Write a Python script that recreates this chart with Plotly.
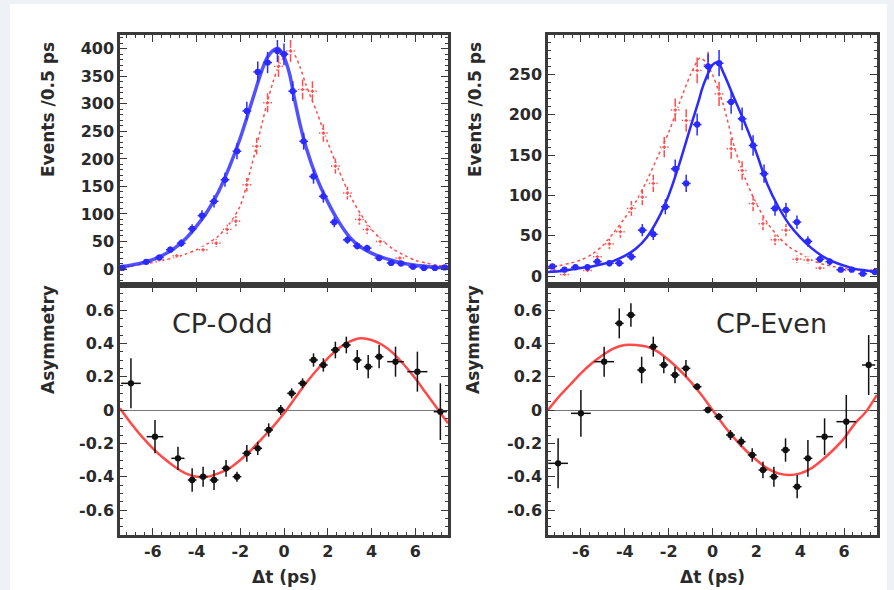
import plotly.graph_objects as go

# ---------------- data ----------------
# Top-left (CP-Odd) event distributions
tl_blue_x = [-7.4, -6.3, -5.7, -5.2, -4.7, -4.2, -3.75, -3.2, -2.7, -2.15, -1.7, -1.2, -0.75, -0.3, 0.0,
             0.4, 0.9, 1.35, 1.8, 2.3, 2.9, 3.35, 3.8, 4.35, 4.9, 5.35, 5.9, 6.4, 6.9, 7.35]
tl_blue_y = [2, 13, 21, 35, 47, 73, 97, 123, 162, 214, 287, 358, 375, 396, 390,
             323, 232, 168, 132, 85, 53, 42, 38, 20, 11, 10, 4, 2, 2, 3]
tl_red_x = [-7.1, -6.4, -5.7, -4.9, -3.7, -3.1, -2.6, -2.2, -1.7, -1.25, -0.75, -0.25, 0.3, 0.85,
            1.3, 1.8, 2.35, 2.9, 3.45, 3.8, 4.4, 5.3, 5.9, 6.5, 6.9]
tl_red_y = [5, 11, 17, 24, 35, 47, 72, 87, 153, 223, 302, 368, 396, 326,
            323, 247, 187, 138, 90, 72, 50, 20, 4, 3, 2]
tl_fit_x = [-7.5, -7, -6.5, -6, -5.5, -5, -4.5, -4, -3.5, -3, -2.5, -2, -1.5, -1, -0.75, -0.5, -0.25,
            0, 0.25, 0.5, 0.75, 1, 1.5, 2, 2.5, 3, 3.5, 4, 4.5, 5, 5.5, 6, 6.5, 7, 7.5]
tl_blue_fit = [4, 7, 11, 17, 26, 38, 55, 78, 105, 140, 185, 238, 300, 362, 385, 397, 400,
               385, 355, 305, 260, 222, 165, 122, 86, 58, 40, 29, 21, 15, 10, 7, 5, 3, 2]
tl_red_fit = [4, 6, 9, 12, 16, 21, 27, 35, 46, 60, 82, 115, 185, 265, 305, 340, 368,
              385, 395, 388, 365, 335, 285, 230, 180, 135, 100, 72, 52, 36, 25, 16, 11, 7, 5]

# Top-right (CP-Even) event distributions
tr_blue_x = [-7.3, -6.75, -6.25, -5.7, -5.25, -4.7, -4.25, -3.7, -3.2, -2.7, -2.15, -1.7, -1.2, -0.7, -0.2,
             0.3, 0.85, 1.35, 1.85, 2.35, 2.85, 3.35, 3.85, 4.35, 4.9, 5.35, 5.85, 6.35, 6.85, 7.4]
tr_blue_y = [12, 8, 11, 11, 18, 16, 16, 24, 57, 52, 86, 133, 115, 188, 260,
             264, 216, 195, 162, 127, 84, 82, 67, 43, 21, 18, 8, 8, 3, 5]
tr_red_x = [-7.2, -6.75, -5.7, -5.25, -4.7, -4.2, -3.7, -3.2, -2.7, -2.2, -1.7, -1.2, -0.7, -0.2,
            0.3, 0.85, 1.35, 1.85, 2.3, 2.85, 3.35, 3.85, 4.35, 4.9, 5.9, 7.4]
tr_red_y = [7, 2, 7, 24, 40, 55, 84, 98, 115, 160, 206, 193, 255, 262,
            226, 158, 131, 90, 65, 45, 57, 21, 20, 10, 7, 8]
tr_fit_x = [-7.5, -7, -6.5, -6, -5.5, -5, -4.5, -4, -3.5, -3, -2.5, -2, -1.5, -1, -0.6, -0.5, -0.3,
            0, 0.25, 0.5, 1, 1.5, 2, 2.5, 3, 3.5, 4, 4.5, 5, 5.5, 6, 6.5, 7, 7.5]
tr_blue_fit = [5, 6, 8, 10, 12, 15, 19, 25, 34, 48, 70, 100, 140, 185, 220, 230, 245,
               262, 265, 252, 220, 188, 153, 114, 86, 64, 48, 35, 25, 18, 13, 9, 7, 5]
tr_red_fit = [10, 13, 16, 20, 27, 38, 54, 72, 92, 118, 148, 178, 215, 250, 270, 270, 265,
              250, 232, 212, 160, 120, 90, 66, 49, 36, 28, 20, 15, 12, 10, 8, 7, 6]

# Bottom-left (CP-Odd) asymmetry
bl_x = [-7.0, -5.9, -4.85, -4.2, -3.7, -3.2, -2.65, -2.15, -1.7, -1.2, -0.7, -0.15,
        0.35, 0.85, 1.35, 1.8, 2.35, 2.85, 3.35, 3.85, 4.35, 5.1, 6.1, 7.15]
bl_y = [0.16, -0.16, -0.29, -0.42, -0.40, -0.42, -0.35, -0.40, -0.26, -0.23, -0.12, 0.0,
        0.10, 0.16, 0.30, 0.27, 0.36, 0.39, 0.30, 0.26, 0.32, 0.29, 0.23, -0.01]
bl_yerr = [0.15, 0.10, 0.07, 0.07, 0.06, 0.06, 0.05, 0.03, 0.05, 0.04, 0.04, 0.03,
           0.03, 0.03, 0.04, 0.04, 0.05, 0.05, 0.06, 0.07, 0.07, 0.09, 0.12, 0.17]
bl_xerr = [0.45, 0.38, 0.3, 0.2, 0.2, 0.2, 0.2, 0.2, 0.2, 0.2, 0.2, 0.2,
           0.2, 0.2, 0.2, 0.2, 0.2, 0.2, 0.2, 0.2, 0.2, 0.38, 0.46, 0.3]
fit_x = [-7.5, -7, -6.5, -6, -5.5, -5, -4.5, -4, -3.5, -3, -2.5, -2, -1.5, -1, -0.5, 0,
         0.5, 1, 1.5, 2, 2.5, 3, 3.5, 4, 4.5, 5, 5.5, 6, 6.5, 7, 7.5]
bl_fit = [0.01, -0.08, -0.16, -0.23, -0.29, -0.34, -0.38, -0.40, -0.40, -0.38, -0.35, -0.30, -0.24, -0.17, -0.10, -0.02,
          0.07, 0.16, 0.24, 0.31, 0.37, 0.41, 0.43, 0.42, 0.39, 0.34, 0.27, 0.19, 0.10, 0.01, -0.08]

# Bottom-right (CP-Even) asymmetry
br_x = [-7.04, -6.0, -4.94, -4.25, -3.72, -3.23, -2.7, -2.22, -1.71, -1.21, -0.7, -0.21,
        0.29, 0.82, 1.31, 1.81, 2.3, 2.8, 3.33, 3.86, 4.35, 5.11, 6.1, 7.12]
br_y = [-0.32, -0.02, 0.29, 0.52, 0.57, 0.24, 0.38, 0.27, 0.21, 0.25, 0.14, 0.0,
        -0.04, -0.15, -0.19, -0.27, -0.36, -0.40, -0.24, -0.46, -0.29, -0.16, -0.07, 0.27]
br_yerr = [0.15, 0.14, 0.09, 0.09, 0.07, 0.08, 0.06, 0.05, 0.05, 0.05, 0.02, 0.02,
           0.02, 0.03, 0.03, 0.04, 0.05, 0.06, 0.07, 0.07, 0.11, 0.11, 0.16, 0.18]
br_xerr = [0.45, 0.45, 0.45, 0.2, 0.2, 0.2, 0.2, 0.2, 0.2, 0.2, 0.2, 0.2,
           0.2, 0.2, 0.2, 0.2, 0.2, 0.2, 0.2, 0.2, 0.2, 0.38, 0.45, 0.3]
br_fit = [0.0, 0.08, 0.15, 0.22, 0.28, 0.33, 0.37, 0.39, 0.39, 0.38, 0.35, 0.30, 0.24, 0.17, 0.09, 0.0,
          -0.09, -0.17, -0.24, -0.30, -0.35, -0.38, -0.39, -0.38, -0.35, -0.30, -0.24, -0.17, -0.08, -0.01, 0.09]

x_tickvals = [-6, -4, -2, 0, 2, 4, 6]
x_ticktext = ["-6", "-4", "-2", "0", "2", "4", "6"]
asym_tickvals = [-0.6, -0.4, -0.2, 0, 0.2, 0.4, 0.6]
asym_ticktext = ["-0.6", "-0.4", "-0.2", "0", "0.2", "0.4", "0.6"]
tl_tickvals = [0, 50, 100, 150, 200, 250, 300, 350, 400]
tr_tickvals = [0, 50, 100, 150, 200, 250]

# ---------------- styling ----------------
BLUE = "#2b2bff"
RED = "#ff4d4d"
FRAME = "#3a3a3a"
TXT = "#2a2a2a"
W, H = 894, 590

def px_x(a, b):
    return [a / W, b / W]

def px_y(top, bottom):
    return [1 - bottom / H, 1 - top / H]

fig = go.Figure()

def pts(x, y, color, xa, ya, hollow=False, err=None, xerr=None, size=5):
    ey = dict(type="sqrt", color=color, thickness=1.5, width=0) if err is None else \
        dict(type="data", array=err, color=color, thickness=1.5, width=0)
    ex = dict(type="constant", value=0.2, color=color, thickness=1.5, width=0) if xerr is None else \
        dict(type="data", array=xerr, color=color, thickness=1.5, width=0)
    fig.add_trace(go.Scatter(
        x=x, y=y, mode="markers", xaxis=xa, yaxis=ya,
        marker=dict(size=size, color="white" if hollow else color,
                    symbol="circle-open" if hollow else "circle",
                    line=dict(color=color, width=1.3)),
        error_y=ey, error_x=ex, showlegend=False, hoverinfo="skip"))

def curve(x, y, color, xa, ya, width, dash="solid"):
    fig.add_trace(go.Scatter(
        x=x, y=y, mode="lines", xaxis=xa, yaxis=ya, line_shape="spline",
        line=dict(color=color, width=width, dash=dash, smoothing=0.8),
        showlegend=False, hoverinfo="skip"))

# top-left
curve(tl_fit_x, tl_red_fit, RED, "x", "y", 1.5, "dot")
pts(tl_red_x, tl_red_y, RED, "x", "y", hollow=True)
curve(tl_fit_x, tl_blue_fit, "rgba(50,50,255,0.85)", "x", "y", 3.5)
pts(tl_blue_x, tl_blue_y, BLUE, "x", "y")
# top-right
curve(tr_fit_x, tr_red_fit, RED, "x2", "y2", 1.5, "dot")
pts(tr_red_x, tr_red_y, RED, "x2", "y2", hollow=True)
curve(tr_fit_x, tr_blue_fit, BLUE, "x2", "y2", 2.5)
pts(tr_blue_x, tr_blue_y, BLUE, "x2", "y2")
# bottom-left
curve(fit_x, bl_fit, "#ff4a4a", "x3", "y3", 2.5)
pts(bl_x, bl_y, "#111111", "x3", "y3", err=bl_yerr, xerr=bl_xerr, size=5)
# bottom-right
curve(fit_x, br_fit, "#ff4a4a", "x4", "y4", 2.5)
pts(br_x, br_y, "#111111", "x4", "y4", err=br_yerr, xerr=br_xerr, size=5)

tickfont = dict(family="DejaVu Sans", size=16, color=TXT, weight="bold")

def xaxis(domain, anchor, labels):
    return dict(domain=domain, anchor=anchor, range=[-7.5, 7.5],
                showline=True, linecolor=FRAME, linewidth=2.5, mirror="ticks",
                ticks="inside", ticklen=7, tickwidth=1, tickcolor=FRAME,
                tickvals=x_tickvals, ticktext=x_ticktext, showticklabels=labels,
                tickfont=tickfont, showgrid=False, zeroline=False,
                minor=dict(ticks="inside", ticklen=3, dtick=0.4, tick0=0, tickcolor=FRAME, showgrid=False))

def yaxis(domain, anchor, rng, tv, tt, minor_dtick, zl=False):
    return dict(domain=domain, anchor=anchor, range=rng,
                showline=True, linecolor=FRAME, linewidth=2.5, mirror="ticks",
                ticks="inside", ticklen=7, tickwidth=1, tickcolor=FRAME,
                tickvals=tv, ticktext=tt, tickfont=tickfont, showgrid=False,
                zeroline=zl, zerolinecolor="#777777", zerolinewidth=1,
                minor=dict(ticks="inside", ticklen=3, dtick=minor_dtick, tick0=0, tickcolor=FRAME, showgrid=False))

xl = px_x(120, 448)
xr = px_x(548, 877)
yt = px_y(35, 285)
yb = px_y(285, 535)

fig.update_layout(
    width=W, height=H, margin=dict(l=0, r=0, t=0, b=0),
    paper_bgcolor="white", plot_bgcolor="white",
    xaxis=xaxis(xl, "y", False),
    yaxis=yaxis(yt, "x", [-29, 425], tl_tickvals, [str(v) for v in tl_tickvals], 10),
    xaxis2=xaxis(xr, "y2", False),
    yaxis2=yaxis(yt, "x2", [-11, 299], tr_tickvals, [str(v) for v in tr_tickvals], 10),
    xaxis3=xaxis(xl, "y3", True),
    yaxis3=yaxis(yb, "x3", [-0.75, 0.75], asym_tickvals, asym_ticktext, 0.05, zl=True),
    xaxis4=xaxis(xr, "y4", True),
    yaxis4=yaxis(yb, "x4", [-0.75, 0.75], asym_tickvals, asym_ticktext, 0.05, zl=True),
    shapes=[
        dict(type="rect", xref="paper", yref="paper", x0=0, x1=10 / W, y0=0, y1=1,
             fillcolor="#eef1f5", line=dict(width=0), layer="below"),
        dict(type="rect", xref="paper", yref="paper", x0=0, x1=1, y0=1 - 4 / H, y1=1,
             fillcolor="#eef1f5", line=dict(width=0), layer="below"),
        dict(type="rect", xref="paper", yref="paper", x0=887 / W, x1=1, y0=0, y1=1,
             fillcolor="#eef1f5", line=dict(width=0), layer="below"),
    ],
)

title_font = dict(family="DejaVu Sans", size=17, color=TXT, weight="bold")
label_font = dict(family="DejaVu Sans", size=27, color=TXT)
ann = [
    dict(text="Events /0.5 ps", x=48 / W, y=1 - 110 / H, textangle=-90),
    dict(text="Events /0.5 ps", x=475 / W, y=1 - 110 / H, textangle=-90),
    dict(text="Asymmetry", x=48 / W, y=1 - 340 / H, textangle=-90),
    dict(text="Asymmetry", x=473 / W, y=1 - 340 / H, textangle=-90),
    dict(text="Δt (ps)", x=284 / W, y=1 - 577 / H, textangle=0),
    dict(text="Δt (ps)", x=712 / W, y=1 - 577 / H, textangle=0),
]
for a in ann:
    fig.add_annotation(text=a["text"], x=a["x"], y=a["y"], xref="paper", yref="paper",
                       textangle=a["textangle"], showarrow=False, font=title_font,
                       xanchor="center", yanchor="middle")
fig.add_annotation(text="CP-Odd", x=-2.79, y=0.52, xref="x3", yref="y3", showarrow=False,
                   font=label_font, xanchor="center", yanchor="middle")
fig.add_annotation(text="CP-Even", x=2.67, y=0.52, xref="x4", yref="y4", showarrow=False,
                   font=label_font, xanchor="center", yanchor="middle")

fig.write_html("out.html")
